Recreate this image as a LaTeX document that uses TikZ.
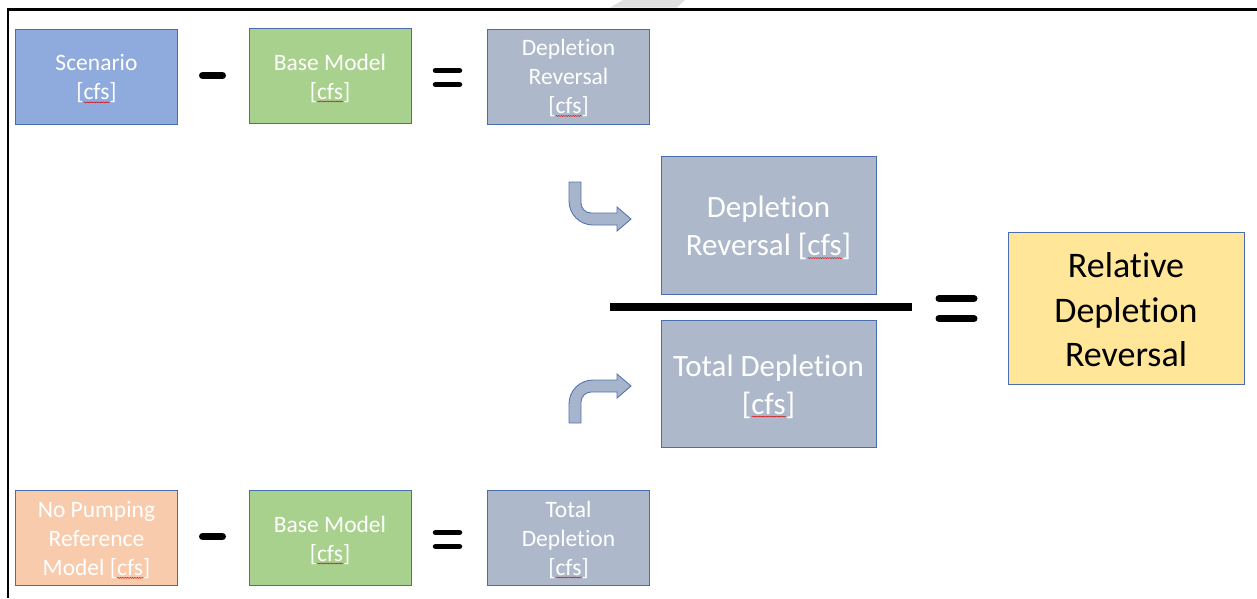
\documentclass[tikz,border=0pt]{standalone}
\usepackage{fontspec}
\setmainfont{Carlito}[RawFeature={-liga;-clig;-rlig;-dlig}]
\usetikzlibrary{decorations.pathmorphing}

\definecolor{scenblue}{HTML}{8FAADC}
\definecolor{basegreen}{HTML}{A9D18E}
\definecolor{slategray}{HTML}{ADB9CA}
\definecolor{peach}{HTML}{F8CBAD}
\definecolor{sand}{HTML}{FFE699}
\definecolor{edgeblue}{HTML}{4A6DB0}
\definecolor{arrowfill}{HTML}{A7B5CC}
\definecolor{arrowedge}{HTML}{5575AE}

% spell-check style red wavy underline
\newcommand\squig[1]{\setbox0=\hbox{#1}\makebox[0pt][l]{\tikz[baseline=0pt]\draw[red!85!black,line width=0.45pt,decorate,decoration={snake,amplitude=0.5pt,segment length=2.4pt}] (0pt,-2.4pt)--(\the\wd0,-2.4pt);}\usebox0}
\newcommand\cfs{[\squig{cfs}]}

\tikzset{
  box/.style={draw=edgeblue, line width=0.9pt, inner sep=0pt},
  smallbox/.style={box, minimum width=162pt, minimum height=95pt},
  bigbox/.style={box, minimum width=215pt},
  lbl/.style={text=white, align=center, inner sep=0pt},
  smalltext/.style={lbl, font=\fontsize{23.5}{29}\selectfont},
  bigtext/.style={lbl, font=\fontsize{31}{38}\selectfont},
  opbar/.style={line width=7pt, line cap=round, black},
  eqbar/.style={line width=5.5pt, line cap=round, black},
  bentarrow/.style={fill=arrowfill, draw=arrowedge, line width=0.9pt, line join=miter},
}

\begin{document}
\begin{tikzpicture}[x=1pt, y=-1pt]
\useasboundingbox (0,0) rectangle (1257,598);

% faint mark above the frame
\fill[gray!25] (610,7.5) -- (623,0) -- (685,0) -- (677,7.5) -- cycle;

% frame
\draw[line width=2.6pt, black] (8,598) -- (8,9.5) -- (1257,9.5);

% top row: Scenario - Base Model = Depletion Reversal
\node[smallbox, fill=scenblue]  (scen)  at (96.5,76.5) {};
\node[smallbox, fill=basegreen] (base1) at (330,75.5) {};
\node[smallbox, fill=slategray] (dr1)   at (568.5,76.5) {};
\node[smalltext] (scenT)  at ([yshift=-2.5pt]scen.center)  {Scenario\\\cfs};
\node[smalltext] (base1T) at ([yshift=-2.5pt]base1.center) {Base Model\\\cfs};
\node[smalltext] (dr1T)   at ([yshift=-1.5pt]dr1.center)   {Depletion\\Reversal\\\cfs};

\coordinate (m1a) at (202.5,75.5); \coordinate (m1b) at (222.5,75.5);
\draw[opbar] (m1a) -- (m1b);
\coordinate (e1a) at (435.5,70.5); \coordinate (e1b) at (459.5,70.5);
\coordinate (e1c) at (435.5,84.5); \coordinate (e1d) at (459.5,84.5);
\draw[eqbar] (e1a) -- (e1b);
\draw[eqbar] (e1c) -- (e1d);

% bottom row: No Pumping - Base Model = Total Depletion
\node[smallbox, fill=peach]     (nop)   at (96.5,537.5) {};
\node[smallbox, fill=basegreen] (base2) at (330,537.5) {};
\node[smallbox, fill=slategray] (td1)   at (568.5,537.5) {};
\node[smalltext] (nopT)   at ([yshift=-2.5pt]nop.center)   {No Pumping\\Reference\\Model \cfs};
\node[smalltext] (base2T) at ([yshift=-2.5pt]base2.center) {Base Model\\\cfs};
\node[smalltext] (td1T)   at ([yshift=-2pt]td1.center)     {Total\\Depletion\\\cfs};

\coordinate (m2a) at (202.5,536.5); \coordinate (m2b) at (222.5,536.5);
\draw[opbar] (m2a) -- (m2b);
\coordinate (e2a) at (435.5,532.5); \coordinate (e2b) at (459.5,532.5);
\coordinate (e2c) at (435.5,546.5); \coordinate (e2d) at (459.5,546.5);
\draw[eqbar] (e2a) -- (e2b);
\draw[eqbar] (e2c) -- (e2d);

% the ratio
\node[bigbox, fill=slategray, minimum height=138pt] (dr2) at (768.5,225) {};
\node[bigbox, fill=slategray, minimum height=127pt] (td2) at (768.5,383.5) {};
\node[bigtext] (dr2T) at ([yshift=-3pt]dr2.center) {Depletion\\Reversal \cfs};
\node[bigtext] (td2T) at ([yshift=-3pt]td2.center) {Total Depletion\\\cfs};
\coordinate (fa) at (610,307); \coordinate (fb) at (912,307);
\draw[line width=8pt, black] (fa) -- (fb);

\coordinate (e3a) at (939,298.5); \coordinate (e3b) at (974,298.5);
\coordinate (e3c) at (939,318.5); \coordinate (e3d) at (974,318.5);
\draw[opbar] (e3a) -- (e3b);
\draw[opbar] (e3c) -- (e3d);

\node[box, fill=sand, minimum width=236pt, minimum height=152pt] (rel) at (1126,308) {};
\node[lbl, text=black, font=\fontsize{36}{44.5}\selectfont] (relT) at ([yshift=-2pt]rel.center)
  {Relative\\Depletion\\Reversal};

% bent block arrows leading into the numerator and denominator
\draw[bentarrow] (569,182) -- (581,182) -- (581,203)
  .. controls (581,208.5) and (585.5,213) .. (591,213)
  -- (617,213) -- (617,207) -- (631,219) -- (617,231) -- (617,225)
  -- (593,225) .. controls (579.7,225) and (569,214.3) .. (569,201) -- cycle;
\draw[bentarrow] (569,423) -- (581,423) -- (581,402)
  .. controls (581,396.5) and (585.5,392) .. (591,392)
  -- (617,392) -- (617,398) -- (631,386) -- (617,374) -- (617,380)
  -- (593,380) .. controls (579.7,380) and (569,390.7) .. (569,404) -- cycle;
\end{tikzpicture}
\end{document}
